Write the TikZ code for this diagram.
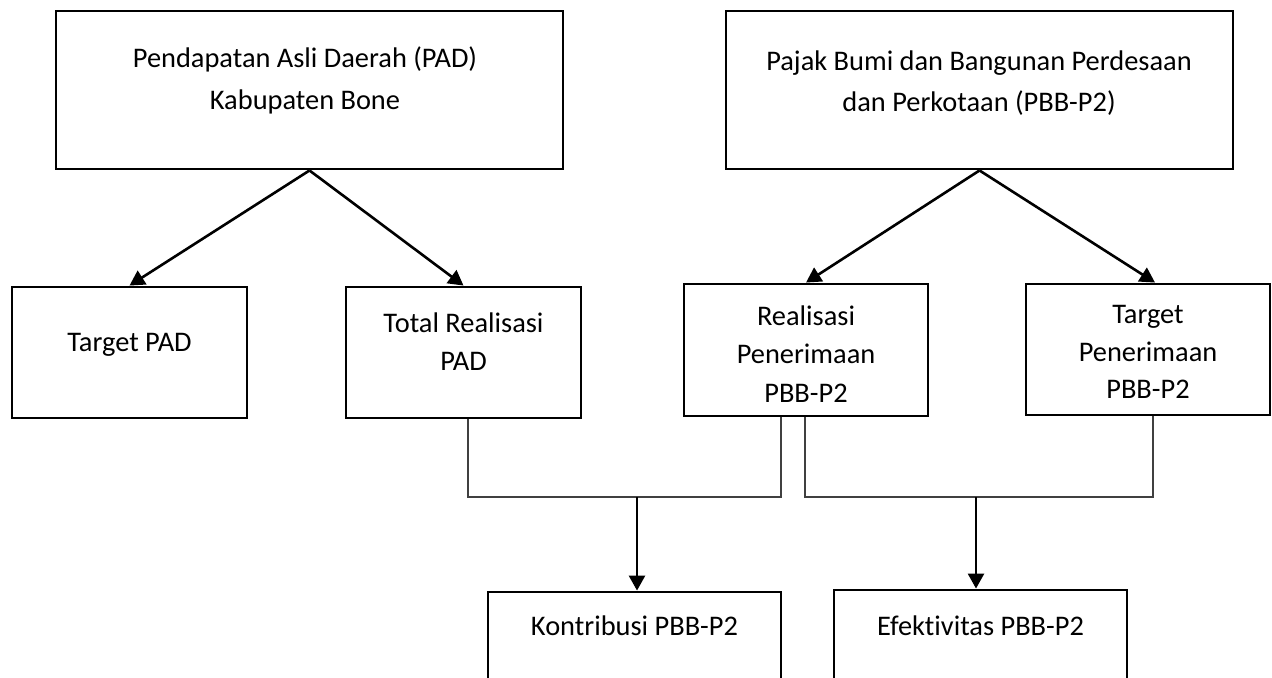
\documentclass[tikz,border=0pt]{standalone}
\usepackage{fontspec}
\setmainfont{Carlito}[Ligatures=NoCommon]
\usetikzlibrary{arrows.meta}

\begin{document}
\begin{tikzpicture}[x=0.5pt, y=-0.5pt]
\tikzset{el/.style={draw, rectangle, line width=1.45pt, minimum width=117.5pt, minimum height=65.5pt, inner sep=0pt},
txt/.style={align=center, inner sep=0pt, anchor=north, font=\fontsize{14.2}{19}\selectfont},
arr/.style={-{Triangle[length=7.5pt, width=8pt]}, line width=1.3pt},
link/.style={draw=black!75, line width=0.6pt}}

\useasboundingbox (0,0) rectangle (1272,677);
\clip (0,0) rectangle (1272,677);

% Sources
\node[el, minimum width=253.5pt, minimum height=79pt] (pad) at (309.5,90) {};
\node[txt, font=\fontsize{14.2}{21}\selectfont] (padtxt) at (305,46)
{Pendapatan Asli Daerah (PAD)\\Kabupaten Bone};
\node[el, minimum width=253.5pt, minimum height=79pt] (pbb) at (979.5,90) {};
\node[txt, font=\fontsize{14.2}{20.5}\selectfont] (pbbtxt) at (979,50)
{Pajak Bumi dan Bangunan Perdesaan\\dan Perkotaan (PBB-P2)};

% Targets and realisations
\node[el] (tpad) at (129.5,352.5) {};
\node[txt] (tpadtxt) at (129.5,333) {Target PAD};
\node[el] (trpad) at (463.5,352.5) {};
\node[txt] (trpadtxt) at (463.5,312) {Total Realisasi\\PAD};
\node[el, minimum width=122pt, minimum height=66pt] (rppbb) at (806,350) {};
\node[txt, font=\fontsize{14.2}{19.25}\selectfont] (rppbbtxt) at (806,305)
{Realisasi\\Penerimaan\\PBB-P2};
\node[el, minimum width=122pt, minimum height=65.5pt] (tppbb) at (1148,349.5) {};
\node[txt, font=\fontsize{14.2}{18.75}\selectfont] (tppbbtxt) at (1148,305)
{Target\\Penerimaan\\PBB-P2};

% Results
\node[el, minimum width=146.5pt, minimum height=64pt] (kontr) at (634.5,656) {};
\node[txt] (kontrtxt) at (634.5,615) {Kontribusi PBB-P2};
\node[el, minimum width=146.5pt, minimum height=65pt] (efek) at (980.5,655) {};
\node[txt] (efektxt) at (980.5,615) {Efektivitas PBB-P2};

% Joins
\coordinate (k1) at (468,497);
\coordinate (k2) at (781,497);
\coordinate (kjoin) at (637,497);
\coordinate (e1) at (805,497);
\coordinate (e2) at (1153,497);
\coordinate (ejoin) at (976,497);

% Connections
\draw[arr] (pad.south) -- (tpad.north);
\draw[arr] (pad.south) -- (trpad.north);
\draw[arr] (pbb.south) -- (rppbb.north);
\draw[arr] (pbb.south) -- ([xshift=3.5pt]tppbb.north);

\draw[link] (trpad.south -| k1) -- (k1) -- (k2) -- (rppbb.south -| k2);
\draw[link] (rppbb.south -| e1) -- (e1) -- (e2) -- (tppbb.south -| e2);

\draw[arr] (kjoin) -- (kontr.north -| kjoin);
\draw[arr] (ejoin) -- (efek.north -| ejoin);

\end{tikzpicture}
\end{document}
